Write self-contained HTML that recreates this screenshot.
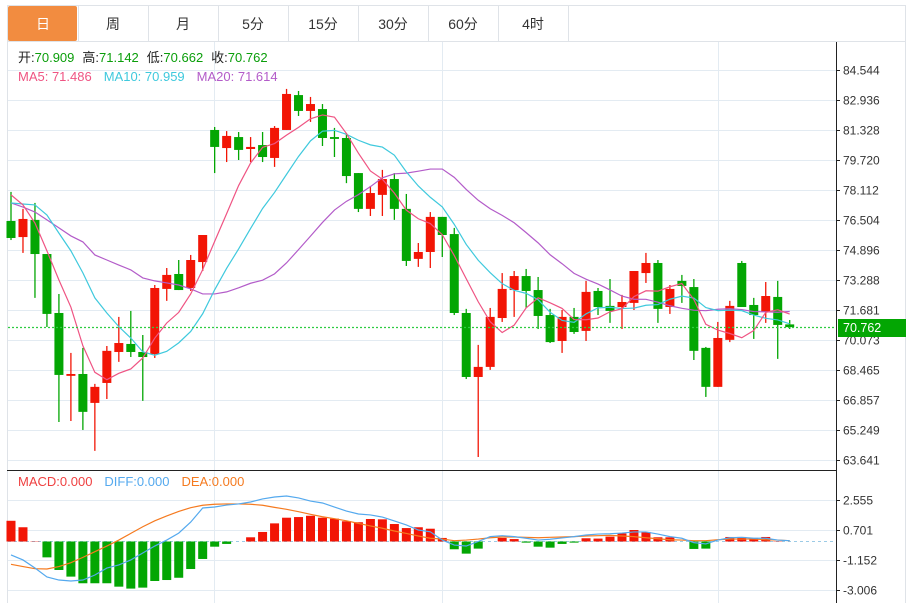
<!DOCTYPE html>
<html><head><meta charset="utf-8"><style>
body{margin:0;background:#fff;width:916px;height:603px;overflow:hidden;font-family:"Liberation Sans","Noto Sans CJK SC",sans-serif}
svg{position:absolute;left:0;top:0}
</style></head><body>
<svg id="c" width="916" height="603" xmlns="http://www.w3.org/2000/svg"></svg>
<script>
const opens=[76.45,75.59,76.51,74.68,71.52,68.15,68.25,66.70,67.77,69.43,69.86,69.43,69.32,72.81,73.61,72.86,74.25,81.33,80.36,80.95,80.31,80.52,79.83,81.33,83.20,82.35,82.45,80.95,80.90,79.02,77.10,77.85,78.70,77.10,74.42,74.79,76.67,75.75,71.52,68.09,68.63,71.25,72.75,73.50,72.75,71.41,70.02,71.31,70.56,72.70,71.90,71.84,72.06,73.66,74.20,71.84,73.24,72.91,69.65,67.56,70.08,74.20,71.95,71.57,72.38,70.909];
const highs=[78.01,77.10,77.42,74.68,72.54,69.38,69.65,67.72,69.75,71.31,71.63,70.34,73.02,73.93,74.36,74.63,75.70,81.49,81.27,81.22,80.95,81.22,81.54,83.53,83.42,83.10,82.72,81.44,81.17,79.02,78.33,79.19,79.02,77.90,75.27,76.93,76.67,76.08,71.74,69.81,71.79,73.66,73.77,73.88,73.45,71.74,71.68,71.79,73.24,72.86,73.34,72.49,73.77,74.74,74.36,73.02,73.56,73.34,69.70,71.04,72.17,74.31,72.33,73.18,73.24,71.142];
const lows=[75.43,74.74,72.33,70.77,65.68,65.73,65.25,64.13,66.91,68.90,69.16,66.81,69.11,72.17,72.75,72.70,73.77,79.02,79.61,79.72,79.61,79.61,79.35,81.33,82.08,81.76,80.47,79.88,78.48,76.93,76.72,76.72,76.51,74.04,73.99,73.93,74.52,71.41,67.98,63.80,68.47,71.04,71.31,71.79,70.66,69.91,69.38,70.40,70.02,71.41,70.99,70.66,71.68,73.13,70.99,71.47,72.06,69.00,67.02,67.56,69.96,71.84,70.13,70.99,69.06,70.662];
const closes=[75.54,76.56,74.68,71.47,68.20,68.25,66.22,67.56,69.49,69.91,69.43,69.16,72.86,73.56,72.75,74.36,75.70,80.42,81.01,80.26,80.42,79.88,81.44,83.26,82.35,82.72,80.90,80.85,78.86,77.10,77.95,78.70,77.10,74.31,74.79,76.67,75.70,71.52,68.09,68.63,71.31,72.81,73.50,72.70,71.36,69.96,71.31,70.50,72.65,71.84,71.63,72.11,73.77,74.20,71.74,72.81,72.97,69.49,67.56,70.18,71.90,71.84,71.41,72.43,70.88,70.762];
const ma5Head=[77.85,77.31,76.34,74.85];
const ma10Head=[77.42,77.36,77.31,76.77,75.80,74.85,73.67,72.33,71.52];
const ma20Head=[77.42,77.20,76.93,76.51,76.08,75.65,75.33,74.63,74.36,74.09,73.83,73.40,73.24,73.13,73.02,72.81,72.54,72.54,72.65];
const macdHist=[1.28,0.88,0.02,-0.98,-1.76,-2.17,-2.58,-2.58,-2.58,-2.79,-2.91,-2.85,-2.44,-2.38,-2.24,-1.70,-1.08,-0.32,-0.15,0.0,0.26,0.59,1.12,1.47,1.51,1.59,1.47,1.41,1.25,1.19,1.39,1.37,1.08,0.83,0.88,0.79,0.22,-0.48,-0.75,-0.44,0.0,0.22,0.15,-0.07,-0.32,-0.38,-0.15,-0.07,0.2,0.18,0.3,0.5,0.71,0.59,0.26,0.26,0.0,-0.46,-0.44,0.0,0.28,0.28,0.22,0.28,0.02,0.0];
const diff=[-0.83,-1.14,-1.64,-2.19,-2.38,-2.44,-2.38,-2.07,-1.64,-1.45,-1.14,-0.71,-0.28,0.09,0.52,1.20,2.07,2.13,2.25,2.32,2.44,2.63,2.75,2.81,2.69,2.50,2.38,2.13,1.88,1.70,1.64,1.51,1.27,1.02,0.71,0.60,0.09,-0.22,-0.28,0.0,0.3,0.36,0.3,0.2,0.09,0.14,0.22,0.3,0.4,0.46,0.48,0.52,0.59,0.59,0.46,0.3,0.2,-0.07,-0.15,0.09,0.23,0.26,0.2,0.2,0.09,0.05];
const dea=[-1.41,-1.55,-1.68,-1.70,-1.55,-1.31,-0.98,-0.63,-0.28,0.09,0.5,0.91,1.28,1.58,1.86,2.09,2.24,2.30,2.32,2.32,2.30,2.24,2.11,1.99,1.84,1.68,1.53,1.41,1.28,1.12,0.96,0.82,0.65,0.5,0.34,0.2,0.15,0.05,0.09,0.15,0.23,0.28,0.28,0.26,0.23,0.26,0.28,0.3,0.34,0.36,0.38,0.34,0.3,0.23,0.17,0.11,0.09,0.05,0.05,0.11,0.15,0.15,0.15,0.11,0.09,0.05];
const priceTicks=["84.544","82.936","81.328","79.720","78.112","76.504","74.896","73.288","71.681","70.073","68.465","66.857","65.249","63.641"];
const macdTicks=["2.555","0.701","-1.152","-3.006"];
const tabs=["日","周","月","5分","15分","30分","60分","4时"];

const NS="http://www.w3.org/2000/svg";
const svg=document.getElementById('c');
function mk(t,a,p){const e=document.createElementNS(NS,t);for(const k in a)e.setAttribute(k,a[k]);(p||svg).appendChild(e);return e;}
const xOf=i=>11+11.98*i;
const yP=v=>70+(84.544-v)*(30/1.608);
const yM=v=>541.5-v*(30/1.8535);
const RED="#f21505",GREEN="#03a603";

mk('rect',{x:7.5,y:5.5,width:898,height:600,fill:'none',stroke:'#dfe3e8'});
mk('line',{x1:7,y1:41.5,x2:906,y2:41.5,stroke:'#dfe3e8'});
tabs.forEach((t,i)=>{
  const g=mk('g',{});
  
  
  if(i===0)mk('rect',{x:8,y:6,width:69,height:35,fill:'#f28c40',rx:2},g);
  mk('line',{x1:78.5+70*i,y1:5,x2:78.5+70*i,y2:41,stroke:'#dfe3e8'},g);
  const tx=mk('text',{x:43+70*i,y:29,'text-anchor':'middle','font-size':14,fill:i===0?'#fff':'#333'},g);
  tx.textContent=t;
});
const grid=mk('g',{});


priceTicks.forEach((t,k)=>{mk('line',{x1:8,x2:836,y1:70+30*k+0.5,y2:70+30*k+0.5,stroke:'#e3ebf2'},grid);});
macdTicks.forEach((t,k)=>{mk('line',{x1:8,x2:836,y1:500.5+30*k,y2:500.5+30*k,stroke:'#e3ebf2'},grid);});
[214.5,442.5,718.5].forEach(x=>mk('line',{x1:x,x2:x,y1:42,y2:603,stroke:'#e3ebf2'},grid));
mk('line',{x1:7.5,x2:7.5,y1:42,y2:603,stroke:'#dfe3e8'});
mk('line',{x1:836.5,x2:836.5,y1:42,y2:603,stroke:'#222'});
mk('line',{x1:7,x2:836,y1:470.5,y2:470.5,stroke:'#222'});
priceTicks.forEach((t,k)=>{
  const y=70+30*k;
  mk('line',{x1:836,x2:840,y1:y+0.5,y2:y+0.5,stroke:'#222'});
  const e=mk('text',{x:843,y:y+4.5,'font-size':12,fill:'#333'});
  
  
  e.textContent=t;
});
macdTicks.forEach((t,k)=>{
  const y=500+30*k;
  mk('line',{x1:836,x2:840,y1:y+0.5,y2:y+0.5,stroke:'#222'});
  const e=mk('text',{x:843,y:y+4.5,'font-size':12,fill:'#333'});
  
  
  e.textContent=t;
});
const cg=mk('g',{});


opens.forEach((o,i)=>{
  const c=closes[i],up=c>=o,col=up?RED:GREEN,x=xOf(i);
  mk('line',{x1:x,x2:x,y1:yP(highs[i]),y2:yP(lows[i]),stroke:col,'stroke-width':1.3},cg);
  const top=yP(Math.max(o,c)),bot=yP(Math.min(o,c));
  const r=mk('rect',{x:x-4.5,y:top,width:9,height:Math.max(1.5,bot-top),fill:col},cg);
  
  
});
function ma(n,head){const out=[];for(let i=0;i<closes.length;i++){if(i<n-1)out.push(head[i]);else{let s=0;for(let j=i-n+1;j<=i;j++)s+=closes[j];out.push(s/n);}}return out;}
function line(vals,yf,col,name){
  const p=mk('polyline',{points:vals.map((v,i)=>xOf(i)+','+yf(v)).join(' '),fill:'none',stroke:col,'stroke-width':1.2});
  
  
}
const ma5=ma(5,ma5Head),ma10=ma(10,ma10Head),ma20=ma(20,ma20Head);
line(ma20,yP,'#b35cc9','ma20-line');
line(ma10,yP,'#3fc9dd','ma10-line');
line(ma5,yP,'#ef5483','ma5-line');
mk('line',{x1:8,x2:836,y1:327.5,y2:327.5,stroke:'#2ecc40','stroke-width':1.3,'stroke-dasharray':'2,2'});
mk('rect',{x:838,y:319,width:68,height:18,fill:GREEN});
const lp=mk('text',{x:843,y:332,'font-size':12.5,fill:'#fff'});


lp.textContent='70.762';
mk('line',{x1:8,x2:836,y1:541.5,y2:541.5,stroke:'#9ccbe6','stroke-dasharray':'3,3'});
const mg=mk('g',{});


macdHist.forEach((v,i)=>{
  const y0=yM(0),y1=yM(v);
  const r=mk('rect',{x:xOf(i)-4.5,y:Math.min(y0,y1),width:9,height:Math.abs(y1-y0),fill:v>=0?RED:GREEN},mg);
  
  
});
line(dea,yM,'#f57a1f','dea-line');
line(diff,yM,'#54a9ee','diff-line');
function legend(items,y,name){
  const t=mk('text',{x:18,y:y,'font-size':13});
  
  
  items.forEach(([s,c,dx])=>{const ts=mk('tspan',{fill:c},t);if(dx)ts.setAttribute('dx',dx);ts.textContent=s;});
}
legend([["开:","#222"],["70.909","#0a9e0a"],["高:","#222",8],["71.142","#0a9e0a"],["低:","#222",8],["70.662","#0a9e0a"],["收:","#222",8],["70.762","#0a9e0a"]],62,'ohlc-legend');
legend([["MA5: 71.486","#ef5483"],["MA10: 70.959","#3fc9dd",12],["MA20: 71.614","#b35cc9",12]],81,'ma-legend');
legend([["MACD:0.000","#ef4040"],["DIFF:0.000","#54a9ee",12],["DEA:0.000","#f57a1f",12]],486,'macd-legend');
</script>
</body></html>
